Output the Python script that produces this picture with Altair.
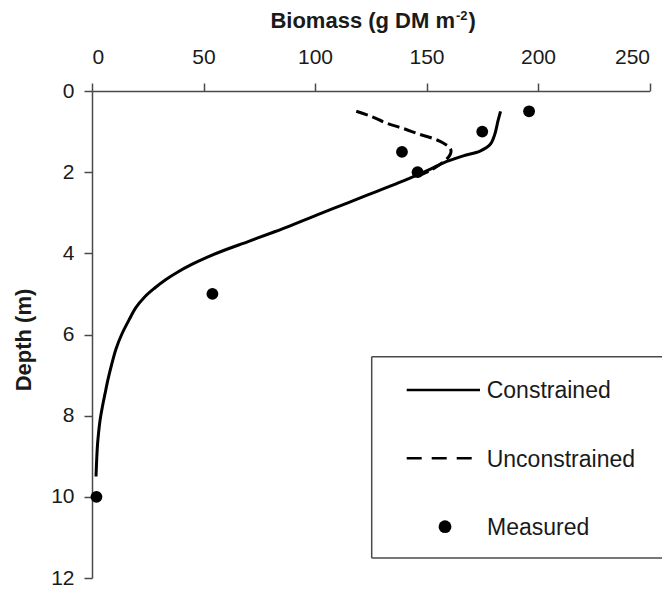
import altair as alt
import pandas as pd

# ---- data ----
con_biomass = [183.2, 182, 180.6, 178.5, 174, 166.5, 157.6, 152, 145.5, 136.6, 129.7, 122.8,
               108, 98, 88, 81.3, 70, 59, 51.5, 44.5, 38.5, 33, 28, 23.5, 19.5, 17, 13.3, 10.8,
               8.8, 7.2, 5.8, 4.6, 3.6, 2.9, 2.4, 1.8]
con_depth = [0.5, 0.75, 1.07, 1.32, 1.48, 1.6, 1.77, 1.92, 2.08, 2.28, 2.43, 2.58,
             2.9, 3.12, 3.34, 3.48, 3.71, 3.93, 4.1, 4.28, 4.46, 4.65, 4.86, 5.08, 5.35, 5.6, 6.0, 6.35,
             6.74, 7.1, 7.47, 7.8, 8.12, 8.45, 8.77, 9.5]

unc_biomass = [118.5, 125, 132, 140, 147, 153, 157.5, 160.5, 161, 160, 157, 152, 146]
unc_depth = [0.5, 0.62, 0.79, 0.93, 1.07, 1.17, 1.28, 1.4, 1.5, 1.62, 1.77, 1.95, 2.1]

meas_biomass = [196, 175, 139, 146, 54, 2]
meas_depth = [0.5, 1.0, 1.5, 2.0, 5.0, 10.0]

x_ticks = [0, 50, 100, 150, 200, 250]
y_ticks = [0, 2, 4, 6, 8, 10, 12]
legend_labels = ["Constrained", "Unconstrained", "Measured"]

FONT = "Liberation Sans"
AX = "#4a4a4a"
TXT = "#1a1a1a"

W, H = 557.5, 487
PL, PT = 84, 83
TOTAL_W, TOTAL_H = 654, 579


def ry(page_y):
    # decoration layout helper: reference page px -> plot px
    return page_y - 8 - PT


df_con = pd.DataFrame({"biomass": con_biomass, "depth": con_depth, "i": range(len(con_depth))})
df_unc = pd.DataFrame({"biomass": unc_biomass, "depth": unc_depth, "i": range(len(unc_depth))})
df_meas = pd.DataFrame({"biomass": meas_biomass, "depth": meas_depth})
one = pd.DataFrame({"k": [0]})

X = alt.X("biomass:Q",
          scale=alt.Scale(domain=[0, 250], nice=False, zero=False),
          axis=alt.Axis(orient="top", values=x_ticks, title=None, grid=False,
                        labelBaseline="alphabetic", labelPadding=19.5,
                        tickSize=8, labelFontSize=21))
Y = alt.Y("depth:Q",
          scale=alt.Scale(domain=[0, 12], nice=False, reverse=True, zero=False),
          axis=alt.Axis(orient="left", values=y_ticks, title=None, grid=False,
                        labelPadding=10, tickSize=8, labelFontSize=21))

unc = alt.Chart(df_unc).mark_line(color="black", strokeWidth=3, strokeDash=[12, 5],
                                  interpolate="catmull-rom").encode(x=X, y=Y, order="i:Q")
con = alt.Chart(df_con).mark_line(color="black", strokeWidth=3,
                                  interpolate="catmull-rom").encode(x=X, y=Y, order="i:Q")
meas = alt.Chart(df_meas).mark_point(filled=True, size=140, color="black", opacity=1).encode(x=X, y=Y)


def txt(text, x, y, size=22, weight="normal", align="left", baseline="alphabetic", angle=0):
    return alt.Chart(one).mark_text(text=text, font=FONT, fontSize=size, fontWeight=weight,
                                    align=align, baseline=baseline, angle=angle,
                                    color=TXT).encode(x=alt.value(x), y=alt.value(y))


def hrule(x, x2, y, width=1.5, color=AX, dash=None):
    kw = dict(color=color, strokeWidth=width)
    if dash:
        kw["strokeDash"] = dash
    return alt.Chart(one).mark_rule(**kw).encode(
        x=alt.value(x), x2=alt.value(x2), y=alt.value(y))


def vrule(x, y, y2, width=1.5, color=AX):
    return alt.Chart(one).mark_rule(color=color, strokeWidth=width).encode(
        x=alt.value(x), y=alt.value(y), y2=alt.value(y2))


# axis titles
title_main = txt("Biomass (g DM m", 363, ry(28), weight="bold", align="right")
title_sup = txt("-2", 364, ry(20), size=13, weight="bold")
title_close = txt(")", 376.5, ry(28), weight="bold")
ytitle = txt("Depth (m)", -68, ry(340), weight="bold", align="center", baseline="middle", angle=270)

# legend box (right side runs off the page)
RX = TOTAL_W - PL
box = [hrule(279.7, RX, ry(356.7)),
       vrule(279.7, ry(356.7), ry(558)),
       hrule(279.7, RX, ry(558))]
leg_con = hrule(314.7, 388, ry(390), width=2.5, color="black")
leg_unc = hrule(314.7, 382, ry(458.3), dash=[15, 10], width=2.5, color="black")
leg_pt = alt.Chart(one).mark_point(filled=True, size=165, color="black", opacity=1).encode(
    x=alt.value(353), y=alt.value(ry(526.7)))
leg_t1 = txt(legend_labels[0], 394.7, ry(398.3), size=23)
leg_t2 = txt(legend_labels[1], 394.7, ry(466.7), size=23)
leg_t3 = txt(legend_labels[2], 395, ry(535), size=23)

chart = alt.layer(unc, con, meas, title_main, title_sup, title_close, ytitle,
                  *box, leg_con, leg_unc, leg_pt, leg_t1, leg_t2, leg_t3).properties(
    width=W, height=H,
    autosize=alt.AutoSizeParams(type="none"),
    padding={"left": PL, "top": PT, "right": TOTAL_W - PL - W, "bottom": TOTAL_H - PT - H},
).configure_view(strokeOpacity=0).configure_axis(
    domainColor=AX, domainWidth=1.5, tickColor=AX, tickWidth=1.5,
    labelFont=FONT, labelColor=TXT,
)

chart.save("out.html", embed_options={"renderer": "svg", "actions": False})
